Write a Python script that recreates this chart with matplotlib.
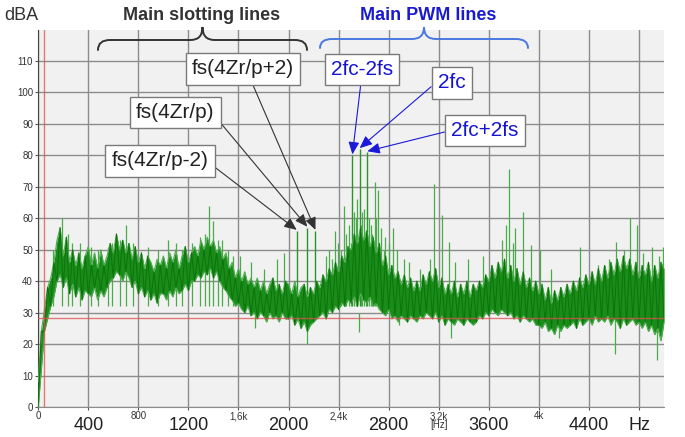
import matplotlib
matplotlib.use("Agg")
import matplotlib.pyplot as plt
import numpy as np
from matplotlib import font_manager
from matplotlib.path import Path
from matplotlib.patches import PathPatch

# font setup - narrow font for the axis numbers if we have it
names = {f.name for f in font_manager.fontManager.ttflist}
narrow = "Liberation Sans Narrow" if "Liberation Sans Narrow" in names else "Liberation Sans"
plt.rcParams["font.family"] = ["Liberation Sans", "DejaVu Sans"]

# noise floor band, upper and lower edge read every 25 Hz from 0 to 5000 Hz (dBA)
floor_top = [
    8, 24, 31, 38, 41, 46, 53, 57, 48, 54,
    46, 50, 45, 49, 44, 48, 51, 45, 49, 44,
    50, 45, 48, 52, 49, 55, 50, 53, 49, 52,
    47, 51, 46, 49, 44, 48, 46, 43, 47, 45,
    48, 44, 49, 46, 50, 44, 48, 51, 46, 49,
    51, 48, 53, 50, 54, 51, 53, 49, 51, 47,
    49, 44, 46, 41, 44, 40, 43, 39, 41, 38,
    41, 37, 40, 36, 39, 41, 37, 39, 36, 40,
    39, 36, 40, 35, 38, 39, 35, 38, 36, 40,
    38, 42, 40, 44, 42, 46, 43, 48, 46, 51,
    50, 55, 52, 57, 53, 56, 51, 54, 49, 52,
    45, 48, 42, 45, 41, 43, 39, 42, 38, 41,
    37, 40, 37, 42, 39, 43, 40, 44, 38, 41,
    36, 39, 36, 40, 35, 39, 36, 40, 35, 39,
    37, 40, 38, 42, 40, 45, 41, 46, 43, 47,
    41, 45, 40, 44, 39, 43, 38, 41, 37, 40,
    36, 39, 34, 38, 33, 37, 34, 38, 35, 39,
    36, 40, 37, 41, 38, 42, 39, 43, 39, 44,
    40, 45, 41, 46, 42, 47, 43, 48, 44, 47,
    42, 46, 41, 45, 42, 46, 40, 45, 41, 46,
    44,
]
floor_bottom = [
    0, 12, 24, 28, 32, 35, 40, 42, 38, 41,
    36, 39, 35, 38, 34, 37, 36, 35, 38, 34,
    37, 35, 38, 40, 41, 43, 42, 40, 43, 41,
    38, 40, 36, 38, 35, 37, 34, 36, 33, 36,
    36, 34, 37, 35, 38, 36, 37, 39, 37, 40,
    40, 42, 41, 43, 42, 44, 41, 43, 40, 38,
    37, 35, 34, 32, 33, 31, 30, 32, 29, 30,
    28, 30, 29, 27, 30, 28, 29, 27, 30, 28,
    28, 29, 26, 28, 25, 27, 24, 26, 27, 28,
    29, 30, 28, 31, 30, 32, 31, 33, 32, 34,
    33, 35, 32, 36, 34, 33, 35, 32, 33, 31,
    30, 29, 31, 28, 29, 27, 29, 28, 27, 29,
    28, 27, 29, 28, 30, 29, 28, 30, 27, 29,
    26, 28, 27, 26, 28, 27, 26, 28, 27, 26,
    27, 29, 28, 30, 29, 31, 30, 29, 31, 30,
    29, 30, 28, 29, 27, 29, 28, 27, 28, 26,
    26, 25, 27, 24, 25, 23, 26, 24, 26, 25,
    26, 27, 25, 28, 26, 27, 28, 26, 29, 27,
    28, 27, 29, 26, 28, 27, 25, 28, 26, 27,
    28, 26, 27, 25, 27, 24, 26, 23, 25, 21,
    27,
]
floor_freq = np.arange(0, 5001, 25)

# single lines sticking out of the floor (Hz, dBA)
peak_freq = [120, 190, 240, 270, 330, 420, 480, 560, 590, 650, 700, 760, 880, 960,
             1040, 1100, 1150, 1230, 1290, 1330, 1365, 1400, 1440, 1470, 1520, 1560,
             1610, 1700, 1800, 1905, 1965, 2300, 2320, 2350, 2371, 2395, 2420, 2443,
             2460, 2480, 2495, 2525, 2540, 2550, 2580, 2590, 2600, 2615, 2640, 2655,
             2670, 2690, 2700, 2714, 2725, 2740, 2760, 2770, 2800, 2838, 2870, 2920,
             2960, 3050, 3130, 3165, 3228, 3284, 3330, 3430, 3550, 3703, 3740, 3757,
             3790, 3809, 3876, 3937, 4009, 4100, 4330, 4470, 4560, 4617, 4680, 4729,
             4782, 4830, 4902, 4960, 4995]
peak_level = [50, 60, 55, 52, 52, 51, 50, 51, 52, 53, 58, 52, 51, 50,
              53, 52, 50, 52, 54, 55, 64, 59, 53, 53, 50, 48,
              48, 46, 44, 47, 49, 48, 50, 47, 56, 52, 50, 64,
              55, 58, 52, 62, 60, 66, 58, 62, 63, 56, 60, 58,
              55, 71.5, 60, 69, 52, 57, 50, 54, 52, 57, 50, 47,
              46, 44, 47, 71, 61, 52.5, 46, 47, 48, 53, 58, 75.5,
              52, 57, 62, 51.5, 50, 44, 51, 45, 47, 52.5, 50, 60,
              58, 49, 51, 48, 51]

# low dips below the floor (Hz, dBA)
dip_freq = [1730, 2150, 2560, 2880, 3300, 4160, 4610, 4940]
dip_level = [25, 20, 24, 26, 22, 22, 17, 15]

# annotated lines
slot_labels = ["fs(4Zr/p-2)", "fs(4Zr/p)", "fs(4Zr/p+2)"]
slot_freq = [2065, 2150, 2215]
slot_level = [56, 57, 56]
pwm_labels = ["2fc-2fs", "2fc", "2fc+2fs"]
pwm_freq = [2510, 2568, 2629]
pwm_level = [80, 82, 81]

ref_level = 28.3
ref_freq = 50

major_ticks = [400, 1200, 2000, 2800, 3600, 4400, 4800]
major_labels = ["400", "1200", "2000", "2800", "3600", "4400", "Hz"]
minor_ticks = [0, 800, 1600, 2400, 3200, 4000]
minor_labels = ["0", "800", "1,6k", "2,4k", "3,2k\n[Hz]", "4k"]

W, H = 685, 437
fig = plt.figure(figsize=(W / 100, H / 100), dpi=100)
ax = fig.add_axes([38.2 / W, 1 - 407 / H, 625.9 / W, 377.5 / H])
ax.set_facecolor("#f1f1f1")
ax.set_xlim(0, 5000)
ax.set_ylim(0, 120)

# grid
ax.set_xticks(major_ticks, labels=major_labels)
ax.set_xticks(minor_ticks, labels=minor_labels, minor=True)
ax.set_yticks(range(0, 120, 10))
ax.grid(True, which="both", color="#8c8c8c", lw=1.0)
ax.set_axisbelow(True)
for s in ["top", "right"]:
    ax.spines[s].set_visible(False)
ax.spines["left"].set_color("#444444")
ax.spines["bottom"].set_color("#8c8c8c")

ax.tick_params(axis="y", length=2.2, width=0.8, color="#555555", pad=1.5,
               labelsize=7, labelcolor="#333333", labelfontfamily=narrow)
ax.tick_params(axis="x", which="major", length=2.2, width=0.8, color="#555555", pad=5,
               labelsize=13, labelcolor="#222222", labelfontfamily=narrow)
ax.tick_params(axis="x", which="minor", length=2.2, width=0.8, color="#555555", pad=0.8,
               labelsize=7, labelcolor="#333333", labelfontfamily=narrow)
for lab in ax.get_xticklabels(minor=True):
    lab.set_linespacing(0.85)

# spectrum
ax.vlines(dip_freq, 30, dip_level, color="#4aab4a", lw=0.9, zorder=2)
ax.vlines(peak_freq, 32, peak_level, color="#4aab4a", lw=0.9, zorder=2)
ax.vlines(slot_freq, 32, slot_level, color="#2a962a", lw=1.0, zorder=2)
ax.vlines(pwm_freq, 32, pwm_level, color="#2a962a", lw=1.0, zorder=2)
ax.fill_between(floor_freq, floor_bottom, floor_top, color="#1a8c1a", lw=0, zorder=3)
ax.plot(floor_freq, floor_top, color="#52ad52", lw=0.8, zorder=3)
ax.plot(floor_freq, floor_bottom, color="#52ad52", lw=0.8, zorder=3)
# zig-zag through the band edges for the noisy texture
zig = [t if i % 2 else b for i, (t, b) in enumerate(zip(floor_top, floor_bottom))]
ax.plot(floor_freq, zig, color="#0b730b", lw=0.7, zorder=3)

ax.axhline(ref_level, color="#e05050", lw=1.0, alpha=0.75, zorder=4)
ax.axvline(ref_freq, color="#e05050", lw=1.0, alpha=0.75, zorder=4)

fig.text(4 / W, 1 - 15 / H, "dBA", fontsize=13, color="#333333", va="center")


def brace(x0, x1, y_end, y_bar, y_tip, color):
    # curly brace in reference pixel coords (y down)
    xc = (x0 + x1) / 2
    r = 12
    pts = [(x0, y_end), (x0, y_bar), (x0 + r, y_bar), (xc - r, y_bar),
           (xc, y_bar), (xc, y_tip), (xc, y_bar), (xc + r, y_bar),
           (x1 - r, y_bar), (x1, y_bar), (x1, y_end)]
    codes = [Path.MOVETO, Path.CURVE3, Path.CURVE3, Path.LINETO,
             Path.CURVE3, Path.CURVE3, Path.CURVE3, Path.CURVE3,
             Path.LINETO, Path.CURVE3, Path.CURVE3]
    pts = [(x / W, 1 - y / H) for x, y in pts]
    p = PathPatch(Path(pts, codes), transform=fig.transFigure, fill=False,
                  edgecolor=color, lw=1.4, capstyle="round")
    fig.add_artist(p)


brace(98, 307, 50, 40, 27, "#333333")
brace(320, 528, 48, 39, 27, "#4a78e0")
fig.text(202 / W, 1 - 16 / H, "Main slotting lines", fontsize=13, fontweight="bold",
         color="#333333", ha="center", va="center")
fig.text(428 / W, 1 - 15 / H, "Main PWM lines", fontsize=13, fontweight="bold",
         color="#1a1ad0", ha="center", va="center")

# label boxes: centre in reference pixels, arrow start relpos
slot_box = [(160, 161, (1, 0.43)), (175, 112.5, (1, 0.35)), (243, 69, (0.57, 0))]
pwm_box = [(362, 69.5, (0.49, 0)), (451.7, 82.8, (0, 0.6)), (485, 130.5, (0, 0.51))]

for lab, f, lv, (bx, by, rp) in zip(slot_labels, slot_freq, slot_level, slot_box):
    ax.annotate(lab, xy=(f, lv + 0.3), xytext=(bx, H - by), textcoords="figure pixels",
                fontsize=15, color="#222222", ha="center", va="center",
                bbox=dict(boxstyle="square,pad=0.3", fc="white", ec="#7a7a7a", lw=1.0),
                arrowprops=dict(arrowstyle="-|>,head_length=0.5,head_width=0.22",
                                color="#333333", lw=0.8, shrinkA=0, shrinkB=0, relpos=rp),
                annotation_clip=False, zorder=6)

for lab, f, lv, (bx, by, rp) in zip(pwm_labels, pwm_freq, pwm_level, pwm_box):
    ax.annotate(lab, xy=(f, lv + 0.3), xytext=(bx, H - by), textcoords="figure pixels",
                fontsize=15, color="#1414d2", ha="center", va="center",
                bbox=dict(boxstyle="square,pad=0.3", fc="white", ec="#7a7a7a", lw=1.0),
                arrowprops=dict(arrowstyle="-|>,head_length=0.5,head_width=0.22",
                                color="#1a1ad8", lw=0.8, shrinkA=0, shrinkB=0, relpos=rp),
                annotation_clip=False, zorder=6)

fig.savefig("out.png", dpi=100, facecolor="white")
